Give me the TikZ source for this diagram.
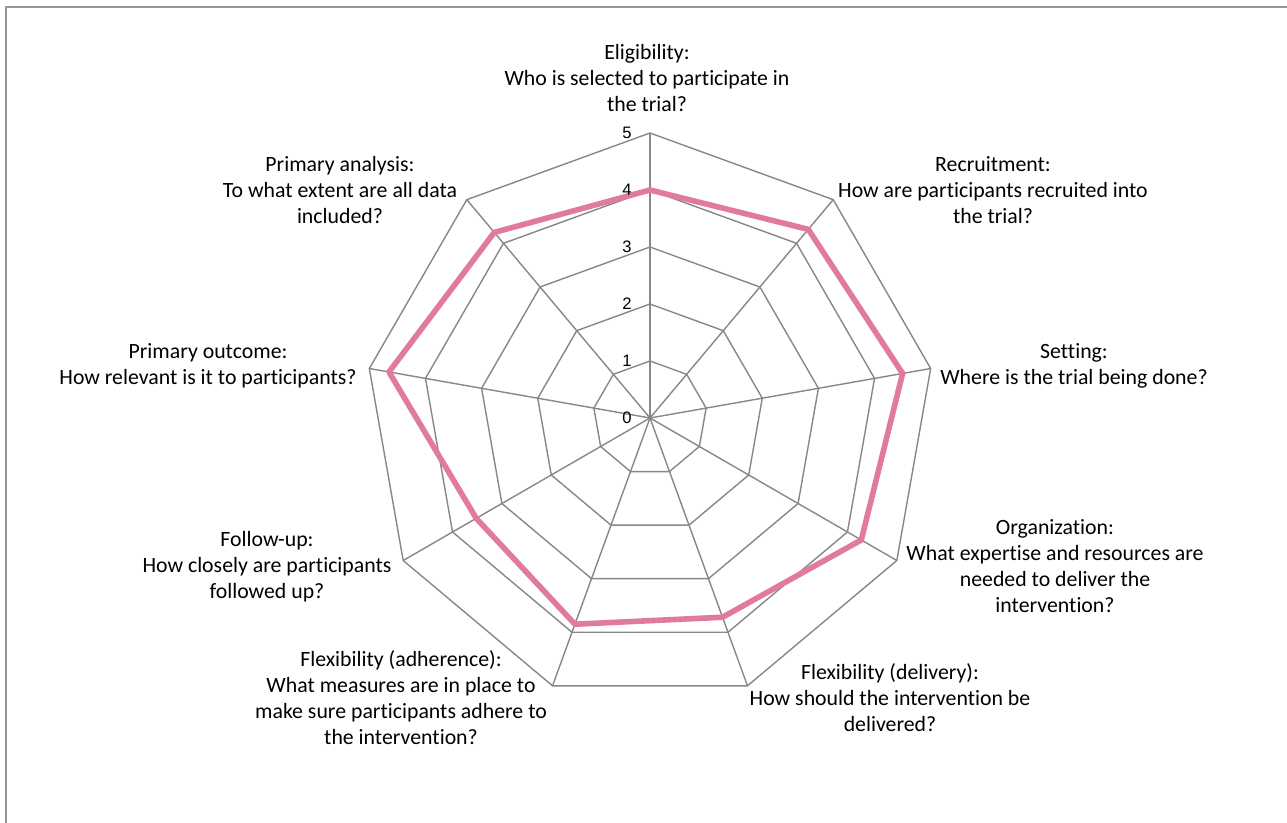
\documentclass[tikz,border=0pt]{standalone}
\usepackage{fontspec}
\setmainfont{Carlito}[Ligatures=NoCommon]
\newfontfamily\tickfont{Liberation Sans}
\usepackage{tikz}
\usetikzlibrary{positioning}

\definecolor{gridgray}{RGB}{135,135,135}
\definecolor{framegray}{RGB}{150,150,150}
\definecolor{seriespink}{RGB}{224,122,158}

\begin{document}
\begin{tikzpicture}[
    x = 0.5pt, y = 0.5pt,
    grid/.style = {draw=gridgray, line width=0.7pt},
    series/.style = {draw=seriespink, line width=2.8pt, line join=round},
    lbl/.style = {align=center, inner sep=0pt, font=\fontsize{10.9}{13}\selectfont},
    tick/.style = {anchor=east, inner sep=0pt, font=\tickfont\fontsize{8.3}{9}\selectfont}
]
    \useasboundingbox (0,0) rectangle (1287,-823);

    % Frame
    \draw[framegray, line width=1pt] (6,-823) -- (6,-7) -- (1287,-7);

    % Radar grid and spokes
    \begin{scope}[shift={(650,-418)}]
        \coordinate (centre) at (0,0);
        \foreach \r in {1,...,5}
            \draw[grid] (90:57*\r) \foreach \i in {1,...,8} { -- (90-40*\i:57*\r) } -- cycle;
        \foreach \i in {0,...,8}
            \draw[grid] (centre) -- (90-40*\i:285);

        % Scores
        \draw[series] (90:57*4)
            \foreach \v [count=\i] in {4.32,4.5,4.28,3.72,3.85,3.52,4.65,4.25} { -- (90-40*\i:57*\v) } -- cycle;
    \end{scope}

    % Scale
    \foreach \r in {0,...,5}
        \node[tick] (tick\r) at (632,-418+57*\r) {\r};

    % Labels
    \node[lbl] (elig)  at (647,-78)  {Eligibility:\\Who is selected to participate in\\the trial?};
    \node[lbl] (recr)  at (993,-190) {Recruitment:\\How are participants recruited into\\the trial?};
    \node[lbl] (sett)  at (1074,-366) {Setting:\\Where is the trial being done?};
    \node[lbl] (orga)  at (1055,-566) {Organization:\\What expertise and resources are\\needed to deliver the\\intervention?};
    \node[lbl] (fdel)  at (890,-698) {Flexibility (delivery):\\How should the intervention be\\delivered?};
    \node[lbl] (fadh)  at (401,-698) {Flexibility (adherence):\\What measures are in place to\\make sure participants adhere to\\the intervention?};
    \node[lbl] (follow) at (267,-567) {Follow-up:\\How closely are participants\\followed up?};
    \node[lbl] (pout)  at (208,-366) {Primary outcome:\\How relevant is it to participants?};
    \node[lbl] (pana)  at (340,-190) {Primary analysis:\\To what extent are all data\\included?};
\end{tikzpicture}
\end{document}
